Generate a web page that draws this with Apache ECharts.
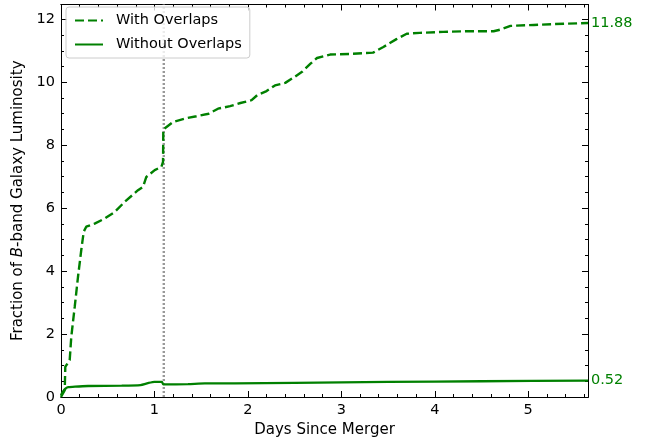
<!DOCTYPE html>
<html>
<head>
<meta charset="utf-8">
<script src="https://cdn.jsdelivr.net/npm/echarts@6/dist/echarts.min.js"></script>
<style>html,body{margin:0;padding:0;background:#fff}#c{width:657px;height:440px}</style>
</head>
<body>
<div id="c"></div>
<script>
// ---- data ----
const withDays = [0, 0.04, 0.046, 0.093, 0.11, 0.147, 0.182, 0.217, 0.243, 0.27, 0.36, 0.468, 0.575, 0.682, 0.824, 0.878, 0.913, 1.003, 1.074, 1.092, 1.095, 1.2, 1.33, 1.45, 1.58, 1.68, 1.81, 1.92, 2.04, 2.1, 2.2, 2.29, 2.4, 2.49, 2.58, 2.67, 2.74, 2.88, 3.09, 3.34, 3.45, 3.59, 3.70, 3.84, 4.09, 4.34, 4.63, 4.70, 4.81, 5.06, 5.38, 5.64];
const withVals = [0, 0.22, 0.96, 1.17, 1.91, 2.87, 3.82, 4.67, 5.25, 5.41, 5.51, 5.67, 5.88, 6.2, 6.57, 6.68, 6.99, 7.21, 7.31, 7.47, 8.5, 8.74, 8.85, 8.92, 9.0, 9.16, 9.24, 9.34, 9.43, 9.59, 9.72, 9.9, 9.98, 10.15, 10.33, 10.59, 10.77, 10.88, 10.9, 10.94, 11.12, 11.37, 11.54, 11.57, 11.6, 11.62, 11.62, 11.67, 11.79, 11.82, 11.86, 11.88];
const withoutDays = [0, 0.012, 0.03, 0.05, 0.078, 0.15, 0.29, 0.65, 0.85, 0.93, 1.0, 1.08, 1.095, 1.36, 1.54, 1.86, 2.5, 3.5, 4.5, 5.64];
const withoutVals = [0.05, 0.13, 0.21, 0.27, 0.31, 0.33, 0.35, 0.36, 0.38, 0.44, 0.48, 0.48, 0.40, 0.41, 0.43, 0.43, 0.45, 0.48, 0.50, 0.52];
const xMajorTicks = [0, 1, 2, 3, 4, 5];
const xMinorTicks = [];
for (let i = 1; i <= 28; i++) xMinorTicks.push(+(i * 0.2).toFixed(1));
const yMajorTicks = [0, 2, 4, 6, 8, 10, 12];
const yMinorTicks = [];
for (let i = 1; i <= 24; i++) yMinorTicks.push(i * 0.5);
const mergerDay = 1.1;
const xMax = 5.64, yMax = 12.47;
const seriesNames = ['With Overlaps', 'Without Overlaps'];

const GREEN = '#008000';
const FONT = 'DejaVu Sans';
const FS = 14.5;
const FSN = 15;

function xAx(pos, ticks, len, labels, extra) {
  return Object.assign({
    type: 'value', position: pos, min: 0, max: xMax,
    axisLine: { show: true, onZero: false, lineStyle: { color: '#000', width: 1 } },
    axisTick: { show: true, inside: true, length: len, customValues: ticks, lineStyle: { color: '#000', width: 1 } },
    axisLabel: labels ? { show: true, customValues: xMajorTicks, color: '#000', fontSize: FS, fontFamily: FONT, margin: 6 } : { show: false },
    splitLine: { show: false }
  }, extra || {});
}
function yAx(pos, ticks, len, labels, extra) {
  return Object.assign({
    type: 'value', position: pos, min: 0, max: yMax,
    axisLine: { show: true, onZero: false, lineStyle: { color: '#000', width: 1 } },
    axisTick: { show: true, inside: true, length: len, customValues: ticks, lineStyle: { color: '#000', width: 1 } },
    axisLabel: labels ? { show: true, customValues: yMajorTicks, color: '#000', fontSize: FS, fontFamily: FONT, margin: 6 } : { show: false },
    splitLine: { show: false }
  }, extra || {});
}

const chart = echarts.init(document.getElementById('c'), null, { renderer: 'canvas' });
chart.setOption({
  animation: false,
  backgroundColor: '#fff',
  grid: { left: 61, right: 69, top: 4.5, bottom: 43, containLabel: false, outerBoundsMode: 'none' },
  legend: {
    orient: 'vertical', left: 66, top: 7,
    data: seriesNames,
    itemWidth: 28, itemHeight: 14, itemGap: 9,
    padding: [6, 8, 6, 8],
    borderColor: '#cccccc', borderWidth: 1, borderRadius: 3,
    backgroundColor: 'rgba(255,255,255,0.8)',
    itemStyle: { color: 'rgba(0,0,0,0)', borderWidth: 0, opacity: 0 },
    textStyle: { fontSize: FS, fontFamily: FONT, color: '#000', padding: [0, 0, 0, 8] }
  },
  xAxis: [
    xAx('bottom', xMajorTicks, 6, true, {
      name: 'Days Since Merger', nameLocation: 'middle', nameGap: 25,
      nameTextStyle: { fontSize: FSN, fontFamily: FONT, color: '#000' }
    }),
    xAx('bottom', xMinorTicks, 3, false),
    xAx('top', xMajorTicks, 6, false),
    xAx('top', xMinorTicks, 3, false)
  ],
  yAxis: [
    yAx('left', yMajorTicks, 6, true, {
      name: 'Fraction of {i|B}-band Galaxy Luminosity', nameLocation: 'middle', nameGap: 33,
      nameTextStyle: { fontSize: FSN, fontFamily: FONT, color: '#000', rich: { i: { fontStyle: 'italic', fontSize: FSN, fontFamily: FONT, color: '#000' } } }
    }),
    yAx('left', yMinorTicks, 3, false),
    yAx('right', yMajorTicks, 6, false),
    yAx('right', yMinorTicks, 3, false)
  ],
  series: [
    {
      name: 'merger', type: 'line', xAxisIndex: 0, yAxisIndex: 0,
      data: [[mergerDay, 0], [mergerDay, yMax]],
      symbol: 'none', showSymbol: false, silent: true,
      lineStyle: { color: '#999999', width: 2.4, type: [2, 2] },
      z: 2
    },
    {
      name: seriesNames[0], type: 'line', xAxisIndex: 0, yAxisIndex: 0,
      data: withDays.map((d, i) => [d, withVals[i]]),
      symbol: 'none', showSymbol: false, smooth: false,
      lineStyle: { color: GREEN, width: 2.4, type: [9, 4] },
      itemStyle: { color: GREEN },
      endLabel: { show: true, formatter: p => p.value[1].toFixed(2), color: GREEN, fontSize: FS, fontFamily: FONT, distance: 3 },
      z: 3
    },
    {
      name: seriesNames[1], type: 'line', xAxisIndex: 0, yAxisIndex: 0,
      data: withoutDays.map((d, i) => [d, withoutVals[i]]),
      symbol: 'none', showSymbol: false, smooth: 0.2,
      lineStyle: { color: GREEN, width: 2.3, type: 'solid' },
      itemStyle: { color: GREEN },
      endLabel: { show: true, formatter: p => p.value[1].toFixed(2), color: GREEN, fontSize: FS, fontFamily: FONT, distance: 3 },
      z: 3
    }
  ]
});
</script>
</body>
</html>
